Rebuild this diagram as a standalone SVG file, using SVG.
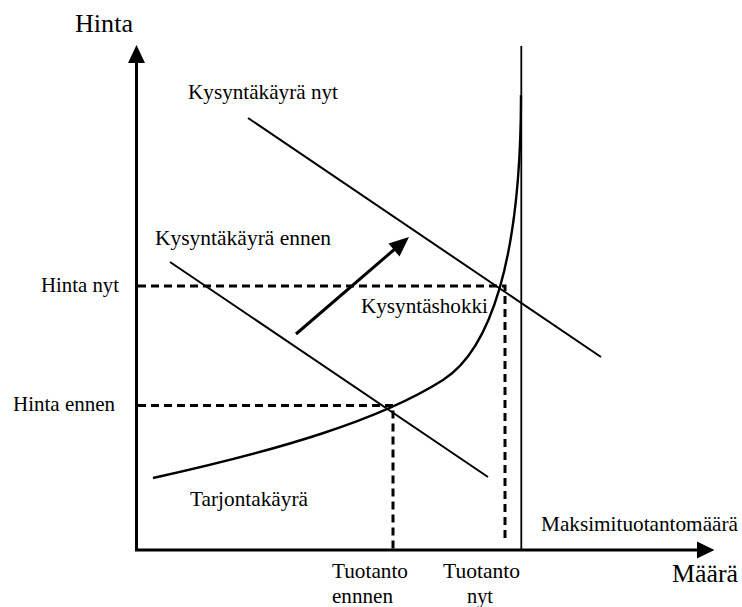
<svg xmlns="http://www.w3.org/2000/svg" width="742" height="607" viewBox="0 0 742 607">
<style>
.line{fill:none;stroke:#000;stroke-width:2}
.axis{fill:none;stroke:#000;stroke-width:3}
.dash{fill:none;stroke:#000;stroke-width:3;stroke-dasharray:8 5}
.head{fill:#000;stroke:none}
text{font-family:'Liberation Serif','Times New Roman','DejaVu Serif',serif;font-size:21px;fill:#000}
</style>
<rect width="742" height="607" fill="#fff"/>
<g id="connectors">
<g id="y-axis"><line class="axis" x1="136.5" y1="550" x2="136.5" y2="62"/><polygon class="head" points="136.5,45 145,63 128,63"/></g>
<g id="x-axis"><line class="axis" x1="135" y1="550" x2="699" y2="550"/><polygon class="head" points="714.5,550 697,541.5 697,558.5"/></g>
<line id="max-line" class="line" x1="521.3" y1="46" x2="521.3" y2="549" style="stroke-width:1.8"/>
<line id="demand-now" class="line" x1="248" y1="118" x2="601" y2="357"/>
<line id="demand-before" class="line" x1="170" y1="262" x2="488" y2="477"/>
<path id="supply" class="line" style="stroke-width:2.4" d="M153,478 C280,450 380,420 443,380 C490,350 521,260 521,95"/>
<path id="price-now" class="dash" d="M138,286 H505 V543"/>
<path id="price-before" class="dash" d="M138,405.5 H393 V549"/>
<g id="shock-arrow"><line class="axis" x1="296" y1="334" x2="396" y2="248"/><polygon class="head" points="409,237 399.5,256.5 388.5,243.5"/></g>
</g>
<g id="label-hinta"><text style="font-size:26px" x="75" y="32" textLength="58" lengthAdjust="spacingAndGlyphs">Hinta</text></g>
<g id="label-kysynta-nyt"><text x="188" y="99" textLength="150" lengthAdjust="spacingAndGlyphs">Kysyntäkäyrä nyt</text></g>
<g id="label-kysynta-ennen"><text x="155" y="245" textLength="176" lengthAdjust="spacingAndGlyphs">Kysyntäkäyrä ennen</text></g>
<g id="label-hinta-nyt"><text x="41" y="292" textLength="78" lengthAdjust="spacingAndGlyphs">Hinta nyt</text></g>
<g id="label-shokki"><text x="361" y="313" textLength="127" lengthAdjust="spacingAndGlyphs">Kysyntäshokki</text></g>
<g id="label-hinta-ennen"><text x="13" y="411" textLength="102" lengthAdjust="spacingAndGlyphs">Hinta ennen</text></g>
<g id="label-tarjonta"><text x="190" y="506" textLength="118" lengthAdjust="spacingAndGlyphs">Tarjontakäyrä</text></g>
<g id="label-maksimi"><text x="541" y="531" textLength="197" lengthAdjust="spacingAndGlyphs">Maksimituotantomäärä</text></g>
<g id="label-tuotanto-ennen"><text x="332" y="578" textLength="76" lengthAdjust="spacingAndGlyphs">Tuotanto</text><text x="332" y="603" textLength="61" lengthAdjust="spacingAndGlyphs">ennnen</text></g>
<g id="label-tuotanto-nyt"><text x="443" y="578" textLength="77" lengthAdjust="spacingAndGlyphs">Tuotanto</text><text x="467" y="603" textLength="26" lengthAdjust="spacingAndGlyphs">nyt</text></g>
<g id="label-maara"><text style="font-size:26px" x="672" y="582" textLength="66" lengthAdjust="spacingAndGlyphs">Määrä</text></g>
</svg>
